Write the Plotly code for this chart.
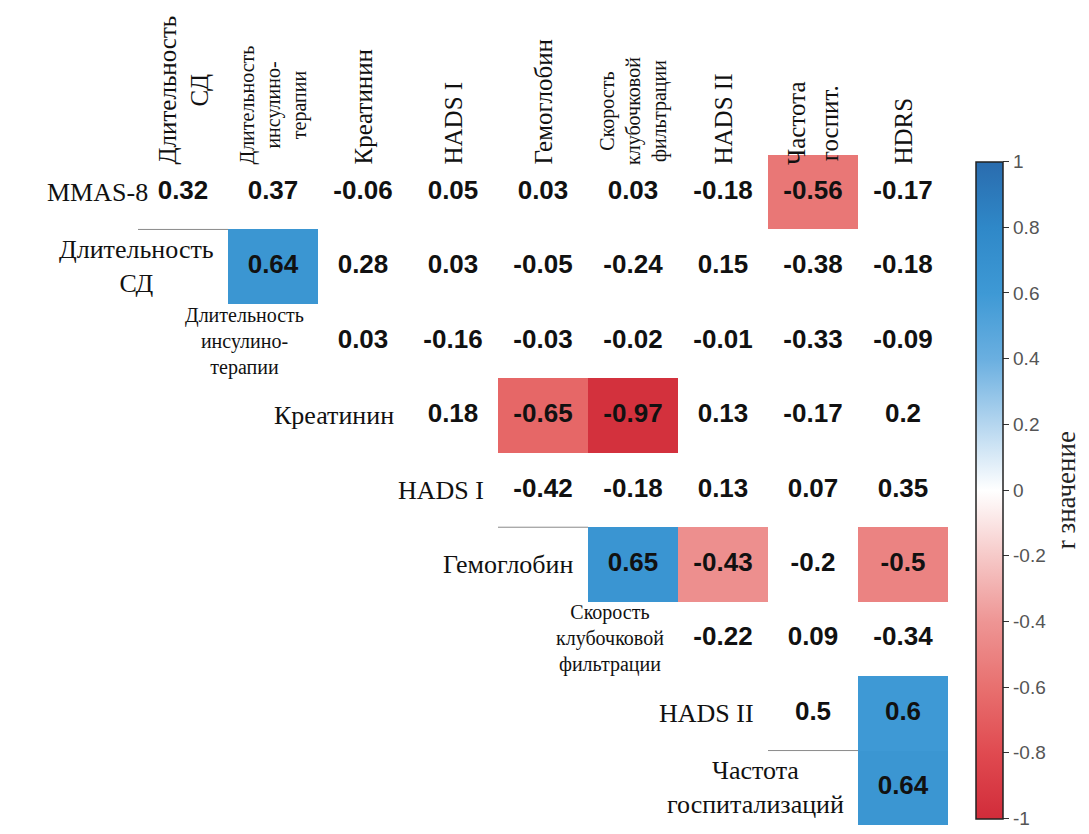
import plotly.graph_objects as go

# Variables of the correlation matrix (rows / columns)
row_labels = ["MMAS-8", "Длительность<br>СД", "Длительность<br>инсулино-<br>терапии",
              "Креатинин", "HADS I", "Гемоглобин",
              "Скорость<br>клубочковой<br>фильтрации", "HADS II", "Частота<br>госпитализаций"]
col_labels = ["Длительность<br>СД", "Длительность<br>инсулино-<br>терапии", "Креатинин",
              "HADS I", "Гемоглобин", "Скорость<br>клубочковой<br>фильтрации",
              "HADS II", "Частота<br>госпит.", "HDRS"]

# Upper-triangle correlation coefficients; row i starts at column i
r_mmas = [0.32, 0.37, -0.06, 0.05, 0.03, 0.03, -0.18, -0.56, -0.17]
r_dur_dm = [0.64, 0.28, 0.03, -0.05, -0.24, 0.15, -0.38, -0.18]
r_dur_ins = [0.03, -0.16, -0.03, -0.02, -0.01, -0.33, -0.09]
r_creat = [0.18, -0.65, -0.97, 0.13, -0.17, 0.2]
r_hads1 = [-0.42, -0.18, 0.13, 0.07, 0.35]
r_hb = [0.65, -0.43, -0.2, -0.5]
r_gfr = [-0.22, 0.09, -0.34]
r_hads2 = [0.5, 0.6]
r_hosp = [0.64]
rows_r = [r_mmas, r_dur_dm, r_dur_ins, r_creat, r_hads1, r_hb, r_gfr, r_hads2, r_hosp]

# Significant correlations (row, column) that get a coloured cell
significant = [(0, 7), (1, 1), (3, 4), (3, 5), (5, 5), (5, 6), (5, 8), (7, 8), (8, 8)]

n = len(col_labels)
z = [[None] * n for _ in range(n)]
tx, ty, tt = [], [], []
for i, vals in enumerate(rows_r):
    for k, v in enumerate(vals):
        j = i + k
        tx.append(j)
        ty.append(i)
        tt.append(f"{v:g}")
        if (i, j) in significant:
            z[i][j] = v

colorscale = [
    [0.0, "#d12c3a"], [0.1, "#e04a50"], [0.2, "#e8706f"], [0.3, "#ee9594"],
    [0.4, "#f6c9c8"], [0.5, "#ffffff"], [0.6, "#b5d6ef"], [0.7, "#6aafe0"],
    [0.8, "#3e99d5"], [0.9, "#2f88c8"], [1.0, "#2a6cae"],
]

cb_vals = [1, 0.8, 0.6, 0.4, 0.2, 0, -0.2, -0.4, -0.6, -0.8, -1]

fig = go.Figure()
fig.add_trace(go.Heatmap(
    z=z, x=list(range(n)), y=list(range(n)),
    zmin=-1, zmax=1, colorscale=colorscale, hoverongaps=False,
    colorbar=dict(
        x=1.022, xanchor="left", y=0.5, yanchor="middle", len=0.98, lenmode="fraction",
        ypad=0, thickness=27, outlinecolor="#222", outlinewidth=1.5,
        tickvals=cb_vals, ticktext=[f"{v:g}" for v in cb_vals],
        ticks="outside", ticklen=6, tickcolor="#333", ticklabeloverflow="allow",
        tickfont=dict(family="Liberation Sans", size=19, color="#555"),
    ),
))
fig.add_trace(go.Scatter(
    x=tx, y=ty, text=tt, mode="text",
    textfont=dict(family="Liberation Sans", size=26, color="#111", weight="bold"),
    hoverinfo="skip", showlegend=False,
))

annotations = []
# Column headers, rotated, above the grid
for j, lab in enumerate(col_labels):
    small = lab.count("<br>") >= 2
    annotations.append(dict(
        x=j, y=1, xref="x", yref="paper", text=lab, showarrow=False,
        textangle=-90, xanchor="center", yanchor="bottom", yshift=-12, align="center",
        font=dict(family="Liberation Serif", size=20 if small else 25, color="#111"),
    ))
# Row labels along the diagonal, just left of each row's first cell
for i, lab in enumerate(row_labels):
    small = lab.count("<br>") >= 2
    annotations.append(dict(
        x=i - 0.5, y=i, xref="x", yref="y", text=lab, showarrow=False,
        xanchor="right", yanchor="middle", xshift=-12 if i else 12, align="center",
        font=dict(family="Liberation Serif", size=20 if small else 26, color="#111"),
    ))
# Colour bar title
annotations.append(dict(
    x=1.146, y=0.5, xref="paper", yref="paper", text="r значение", showarrow=False,
    textangle=-90, xanchor="center", yanchor="middle",
    font=dict(family="Liberation Serif", size=27, color="#222"),
))

# Thin separators above some diagonal labels
line_rows = [1, 5, 8]
shapes = [dict(type="line", xref="x", yref="y", x0=i - 1.5, x1=i - 0.5,
               y0=i - 0.5, y1=i - 0.5, line=dict(color="#8a8a8a", width=1))
          for i in line_rows]

fig.update_layout(
    width=1089, height=834,
    margin=dict(l=138, r=141, t=155, b=9),
    paper_bgcolor="white", plot_bgcolor="white",
    xaxis=dict(range=[-0.5, n - 0.5], visible=False, fixedrange=True),
    yaxis=dict(range=[n - 0.5, -0.5], visible=False, fixedrange=True),
    annotations=annotations, shapes=shapes, showlegend=False,
)

fig.write_html("out.html")
